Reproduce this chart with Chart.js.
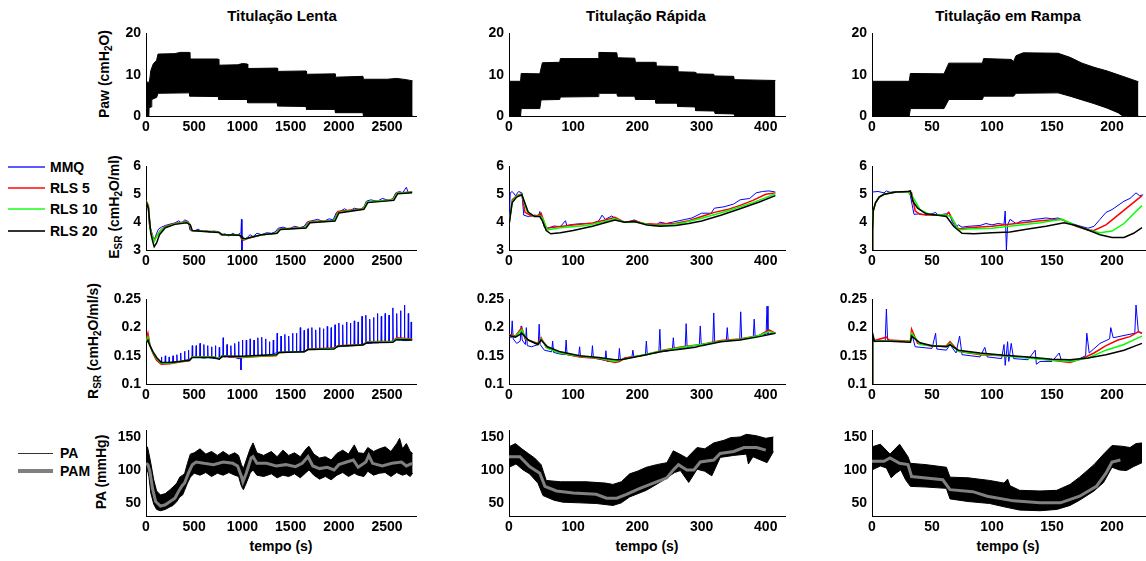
<!DOCTYPE html>
<html>
<head>
<meta charset="utf-8">
<script src="https://cdn.jsdelivr.net/npm/chart.js@4.4.1/dist/chart.umd.min.js"></script>
<style>
  body { margin: 0; width: 1146px; height: 561px; background: #fff; overflow: hidden; position: relative;
         font-family: 'Liberation Sans', Arial, sans-serif; font-weight: bold; color: #000; }
  canvas { position: absolute; }
  .lbl { position: absolute; white-space: nowrap; transform: translate(-50%, -50%); font-size: 14px; line-height: 1; }
  .ttl { font-size: 15px; }
  .ylbl { transform: translate(-50%, -50%) rotate(-90deg); }
  sub { font-size: 10px; vertical-align: -3px; line-height: 0; }
  .legtxt { position: absolute; white-space: nowrap; font-size: 14px; line-height: 1; transform: translateY(-50%); }
  .legline { position: absolute; width: 37px; }
</style>
</head>
<body>

<div class="lbl ttl" style="left:282px;top:15px">Titulação Lenta</div>
<div class="lbl ttl" style="left:646px;top:15px">Titulação Rápida</div>
<div class="lbl ttl" style="left:1008px;top:15px">Titulação em Rampa</div>

<div class="lbl ylbl" style="left:104px;top:74px">Paw (cmH<sub>2</sub>O)</div>
<div class="lbl ylbl" style="left:114px;top:207px">E<sub>SR</sub> (cmH<sub>2</sub>O/ml)</div>
<div class="lbl ylbl" style="left:93px;top:341px">R<sub>SR</sub> (cmH<sub>2</sub>O/ml/s)</div>
<div class="lbl ylbl" style="left:101px;top:472px">PA (mmHg)</div>

<div class="lbl" style="left:281px;top:546px">tempo (s)</div>
<div class="lbl" style="left:647px;top:546px">tempo (s)</div>
<div class="lbl" style="left:1008px;top:546px">tempo (s)</div>

<!-- legends -->
<div class="legline" style="left:8px;top:166px;height:2px;background:rgb(90,90,255)"></div>
<div class="legtxt" style="left:50px;top:167px">MMQ</div>
<div class="legline" style="left:8px;top:187px;height:2px;background:rgb(255,70,70)"></div>
<div class="legtxt" style="left:50px;top:188px">RLS 5</div>
<div class="legline" style="left:8px;top:208px;height:2px;background:rgb(80,255,80)"></div>
<div class="legtxt" style="left:50px;top:209px">RLS 10</div>
<div class="legline" style="left:8px;top:230px;height:2px;background:#333"></div>
<div class="legtxt" style="left:50px;top:231px">RLS 20</div>

<div class="legline" style="left:18px;top:453px;height:1px;width:35px;background:#333"></div>
<div class="legtxt" style="left:60px;top:453px">PA</div>
<div class="legline" style="left:18px;top:469px;height:4px;width:35px;background:#808080"></div>
<div class="legtxt" style="left:60px;top:471px">PAM</div>

<script>
// ---- ticks ----
const xTicksLenta = [0, 500, 1000, 1500, 2000, 2500];
const xTicksRapida = [0, 100, 200, 300, 400];
const xTicksRampa = [0, 50, 100, 150, 200];
const yTicksPaw = [0, 10, 20];
const yTicksE = [3, 4, 5, 6];
const yTicksR = [0.1, 0.15, 0.2, 0.25];
const yTicksPA = [50, 100, 150];

// ---- Paw envelopes [t, cmH2O] ----
const pawUpperLenta = [[0,8.2],[35,8.2],[50,11],[75,12.6],[110,13.5],[125,15],[300,15.1],[350,15.4],[450,15.4],[455,13.8],[750,13.8],[755,12.3],[950,12.4],[1000,12.7],[1050,12.6],[1055,11.5],[1360,11.6],[1365,10.8],[1660,10.9],[1665,10.1],[1960,10.2],[1965,9.4],[2250,9.6],[2255,8.9],[2500,8.9],[2600,9.1],[2700,8.8],[2765,8.5]];
const pawLowerLenta = [[0,0],[30,0],[32,2],[55,2.2],[60,4],[110,4.5],[125,5.5],[450,5.6],[455,4.8],[750,4.7],[755,4],[1050,4],[1055,3.2],[1360,3.2],[1365,2.4],[1660,2.3],[1665,1.6],[1960,1.6],[1965,0.8],[2250,0.8],[2255,0],[2765,0]];
const pawUpperRapida = [[0,8.4],[18,8.4],[19,10.3],[48,10.2],[52,12.9],[79,13],[80,13.9],[139,13.9],[140,15.4],[168,15.3],[169,14.1],[196,14],[197,13],[228,13],[229,12.1],[262,12],[263,10.7],[290,10.6],[291,10.2],[319,10.1],[320,9.7],[350,9.6],[351,8.8],[415,8.6]];
const pawLowerRapida = [[0,0],[18,0],[19,1.8],[48,1.8],[50,3.9],[79,4],[80,4.6],[139,4.7],[140,5.5],[168,5.5],[169,4.8],[196,4.8],[197,4],[228,4],[229,3.1],[262,3.1],[263,2.3],[290,2.2],[291,1.3],[320,1.2],[321,0.6],[350,0.5],[352,0],[415,0]];
const pawUpperRampa = [[0,8.4],[31,8.4],[32,10.3],[60,10.2],[64,12.8],[92,12.8],[93,13.9],[116,13.7],[118,13.2],[120,14.6],[126,15.3],[155,15.2],[165,14.2],[175,12.8],[185,11.8],[196,10.9],[210,9.5],[222,8.3]];
const pawLowerRampa = [[0,0],[31,0],[32,1.8],[60,1.8],[64,4],[92,4],[93,4.8],[118,4.8],[120,5.5],[155,5.6],[165,4.8],[175,3.9],[185,3],[196,1.9],[205,0.8],[209,0],[222,0]];

// ---- E_SR [t, cmH2O/ml] ----
const eMmqLenta = [[0,4.55],[8,4.7],[20,4.6],[35,3.9],[50,3.75],[70,3.45],[90,3.4],[110,3.6],[130,3.75],[160,3.82],[200,3.88],[250,3.93],[300,3.97],[340,4.05],[370,3.95],[400,4.08],[440,4.02],[455,3.72],[500,3.68],[540,3.75],[580,3.66],[620,3.7],[660,3.64],[700,3.68],[750,3.66],[770,3.55],[820,3.58],[860,3.5],[900,3.6],[940,3.52],[985,3.62],[990,4.1],[995,3.0],[1000,3.5],[1020,3.38],[1050,3.45],[1080,3.55],[1110,3.48],[1150,3.6],[1200,3.55],[1250,3.62],[1300,3.6],[1340,3.65],[1370,3.78],[1420,3.82],[1480,3.75],[1540,3.85],[1600,3.8],[1640,3.85],[1670,4.0],[1720,4.05],[1780,4.1],[1840,4.02],[1900,4.12],[1940,4.08],[1975,4.35],[2020,4.4],[2060,4.48],[2100,4.38],[2160,4.5],[2220,4.45],[2260,4.55],[2285,4.75],[2330,4.8],[2400,4.75],[2450,4.85],[2520,4.78],[2560,4.85],[2590,5.05],[2630,5.1],[2660,5.05],[2700,5.25],[2720,5.05],[2760,5.1]];
const eRls5Lenta = [[0,4.55],[10,4.7],[25,4.6],[40,3.8],[60,3.6],[80,3.35],[110,3.5],[150,3.7],[200,3.85],[300,3.95],[420,4.02],[450,3.95],[470,3.7],[600,3.68],[750,3.65],[780,3.55],[970,3.55],[990,3.4],[1010,3.35],[1060,3.42],[1200,3.55],[1350,3.6],[1380,3.75],[1650,3.82],[1690,4.02],[1950,4.05],[1990,4.38],[2250,4.48],[2290,4.72],[2560,4.8],[2600,5.05],[2760,5.08]];
const eRls10Lenta = [[0,4.55],[10,4.68],[25,4.55],[45,3.75],[65,3.5],[85,3.3],[120,3.55],[160,3.72],[200,3.83],[300,3.93],[420,4.0],[455,3.92],[475,3.7],[600,3.67],[750,3.64],[785,3.55],[970,3.54],[995,3.42],[1015,3.38],[1060,3.43],[1200,3.55],[1350,3.6],[1385,3.74],[1650,3.8],[1695,4.0],[1950,4.05],[1995,4.35],[2250,4.47],[2295,4.72],[2560,4.79],[2605,5.04],[2760,5.07]];
const eRls20Lenta = [[0,4.55],[10,4.65],[25,4.5],[50,3.6],[70,3.3],[85,3.12],[110,3.25],[140,3.55],[200,3.8],[300,3.92],[420,3.98],[460,3.9],[480,3.7],[600,3.66],[760,3.63],[790,3.55],[975,3.53],[1000,3.42],[1030,3.4],[1080,3.45],[1200,3.55],[1360,3.6],[1395,3.74],[1660,3.79],[1700,3.98],[1960,4.04],[2000,4.33],[2260,4.46],[2300,4.7],[2570,4.78],[2610,5.02],[2760,5.05]];

const eMmqRapida = [[0,4.0],[2,5.05],[5,5.1],[10,4.95],[15,5.1],[20,5.05],[21,4.8],[23,4.25],[30,4.2],[40,4.25],[46,4.22],[48,4.38],[50,4.2],[55,3.82],[60,3.78],[70,3.86],[80,3.84],[88,4.05],[90,3.88],[100,3.92],[115,3.95],[130,3.95],[140,4.05],[145,4.25],[150,4.1],[160,4.22],[165,4.15],[175,4.02],[185,4.0],[195,4.08],[205,3.98],[215,3.93],[230,3.9],[235,4.0],[245,3.95],[255,4.0],[265,4.05],[275,4.1],[285,4.15],[300,4.32],[315,4.32],[320,4.5],[335,4.55],[350,4.65],[360,4.8],[375,4.85],[385,5.05],[395,5.1],[405,5.12],[415,5.08]];
const eRls5Rapida = [[0,3.9],[5,4.8],[12,4.95],[20,5.02],[25,4.35],[35,4.22],[46,4.25],[50,4.32],[58,3.78],[70,3.82],[100,3.9],[130,3.97],[150,4.08],[165,4.17],[180,4.0],[195,4.05],[210,3.95],[230,3.92],[260,3.96],[280,4.05],[300,4.2],[320,4.35],[340,4.45],[360,4.6],[380,4.78],[400,5.0],[415,5.05]];
const eRls10Rapida = [[0,3.9],[5,4.75],[12,4.93],[20,5.0],[28,4.4],[40,4.2],[48,4.22],[52,4.15],[60,3.72],[80,3.8],[120,3.88],[150,4.02],[165,4.12],[180,4.0],[200,4.0],[225,3.88],[250,3.9],[270,3.97],[300,4.14],[340,4.4],[380,4.7],[400,4.88],[415,5.02]];
const eRls20Rapida = [[0,3.9],[5,4.7],[12,4.9],[20,4.98],[30,4.35],[40,4.2],[48,4.2],[52,4.05],[58,3.7],[65,3.58],[80,3.62],[100,3.7],[130,3.85],[165,4.08],[180,4.0],[195,4.02],[215,3.9],[235,3.85],[260,3.88],[280,3.95],[300,4.04],[330,4.25],[360,4.48],[390,4.72],[415,4.95]];

const eMmqRampa = [[0,5.08],[5,5.1],[10,5.05],[12,5.12],[15,5.07],[20,5.1],[25,5.08],[30,5.1],[32,4.95],[34,4.5],[35,4.28],[40,4.3],[45,4.25],[50,4.3],[53,4.35],[55,4.25],[62,4.3],[64,4.35],[67,4.0],[70,3.82],[72,3.9],[75,3.82],[80,3.85],[90,3.88],[95,3.95],[100,3.9],[105,3.95],[110,3.92],[111,4.4],[112,3.0],[113,3.9],[115,4.1],[120,3.95],[125,4.05],[130,4.05],[135,4.1],[140,4.12],[145,4.15],[150,4.12],[155,4.15],[160,4.05],[170,3.9],[180,3.78],[185,3.85],[190,4.1],[195,4.35],[200,4.45],[205,4.6],[210,4.75],[215,4.85],[220,5.05],[223,4.95],[226,4.98]];
const eRls5Rampa = [[0,3.0],[0.5,3.7],[1,4.4],[3,4.7],[6,4.9],[10,5.0],[20,5.08],[30,5.1],[33,5.05],[36,4.4],[40,4.28],[50,4.25],[62,4.25],[64,4.35],[67,4.1],[72,3.75],[80,3.8],[100,3.85],[120,3.95],[140,4.05],[158,4.1],[170,3.85],[180,3.72],[185,3.7],[195,3.9],[205,4.25],[215,4.6],[225,4.95]];
const eRls10Rampa = [[0,3.0],[0.5,3.7],[1,4.4],[3,4.7],[6,4.9],[10,5.0],[20,5.08],[30,5.1],[34,4.9],[40,4.45],[48,4.28],[62,4.25],[66,4.2],[72,3.72],[80,3.75],[100,3.78],[120,3.88],[140,3.98],[158,4.1],[170,3.88],[180,3.72],[190,3.62],[200,3.68],[210,3.95],[218,4.3],[225,4.6]];
const eRls20Rampa = [[0,3.0],[0.5,3.7],[1,4.4],[3,4.7],[6,4.9],[10,5.0],[20,5.08],[30,5.1],[32,5.12],[34,4.75],[38,4.5],[45,4.3],[55,4.25],[62,4.2],[68,3.85],[75,3.6],[85,3.58],[100,3.62],[115,3.65],[130,3.75],[145,3.85],[160,3.98],[170,3.88],[180,3.72],[190,3.55],[200,3.45],[210,3.45],[218,3.6],[225,3.8]];

// ---- R_SR [t, cmH2O/ml/s] ----
const rMmqLenta = [[0,0.178],[15,0.19],[30,0.172],[60,0.16],[90,0.148],[120,0.14],[150,0.136],
  [156,0.137],[160,0.148],[164,0.137],[196,0.137],[200,0.15],[204,0.137],[236,0.138],[240,0.148],[244,0.138],
  [276,0.139],[280,0.15],[284,0.139],[316,0.14],[320,0.152],[324,0.14],[356,0.14],[360,0.155],[364,0.14],
  [396,0.142],[400,0.158],[404,0.142],[436,0.143],[440,0.16],[444,0.143],[476,0.147],[480,0.168],[484,0.147],
  [516,0.147],[520,0.168],[524,0.147],[556,0.147],[560,0.172],[564,0.147],[596,0.146],[600,0.17],[604,0.146],
  [636,0.147],[640,0.168],[644,0.147],[676,0.146],[680,0.166],[684,0.146],[716,0.145],[720,0.168],[724,0.145],
  [756,0.145],[760,0.165],[764,0.145],[796,0.148],[800,0.182],[804,0.148],[836,0.148],[840,0.17],[844,0.148],
  [876,0.147],[880,0.168],[884,0.147],[916,0.147],[920,0.172],[924,0.147],[956,0.145],[960,0.175],[964,0.145],
  [982,0.146],[985,0.125],[988,0.146],[996,0.148],[1000,0.178],[1004,0.148],[1036,0.148],[1040,0.178],[1044,0.148],
  [1076,0.149],[1080,0.18],[1084,0.149],[1116,0.15],[1120,0.178],[1124,0.15],[1156,0.15],[1160,0.182],[1164,0.15],
  [1196,0.151],[1200,0.183],[1204,0.151],[1236,0.151],[1240,0.18],[1244,0.151],[1276,0.152],[1280,0.175],[1284,0.152],
  [1316,0.153],[1320,0.178],[1324,0.153],[1356,0.156],[1360,0.19],[1364,0.156],[1396,0.156],[1400,0.185],[1404,0.156],
  [1436,0.156],[1440,0.188],[1444,0.156],[1476,0.157],[1480,0.185],[1484,0.157],[1516,0.157],[1520,0.19],[1524,0.157],
  [1556,0.157],[1560,0.19],[1564,0.157],[1596,0.157],[1600,0.2],[1604,0.157],[1636,0.158],[1640,0.195],[1644,0.158],
  [1676,0.161],[1680,0.198],[1684,0.161],[1716,0.161],[1720,0.2],[1724,0.161],[1756,0.161],[1760,0.196],[1764,0.161],
  [1796,0.162],[1800,0.2],[1804,0.162],[1836,0.162],[1840,0.198],[1844,0.162],[1876,0.163],[1880,0.202],[1884,0.163],
  [1916,0.163],[1920,0.2],[1924,0.163],[1956,0.165],[1960,0.205],[1964,0.165],[1996,0.166],[2000,0.208],[2004,0.166],
  [2036,0.167],[2040,0.205],[2044,0.167],[2076,0.167],[2080,0.21],[2084,0.167],[2116,0.168],[2120,0.208],[2124,0.168],
  [2156,0.168],[2160,0.212],[2164,0.168],[2196,0.169],[2200,0.21],[2204,0.169],[2236,0.17],[2240,0.22],[2244,0.17],
  [2276,0.172],[2280,0.222],[2284,0.172],[2316,0.172],[2320,0.215],[2324,0.172],[2356,0.173],[2360,0.218],[2364,0.173],
  [2396,0.173],[2400,0.225],[2404,0.173],[2436,0.174],[2440,0.22],[2444,0.174],[2476,0.174],[2480,0.225],[2484,0.174],
  [2516,0.175],[2520,0.222],[2524,0.175],[2556,0.176],[2560,0.235],[2564,0.176],[2596,0.178],[2600,0.225],[2604,0.178],
  [2636,0.178],[2640,0.23],[2644,0.178],[2676,0.177],[2680,0.24],[2684,0.177],[2716,0.177],[2720,0.225],[2724,0.177],
  [2746,0.178],[2750,0.21],[2754,0.178],[2760,0.178]];
const rRls5Lenta = [[0,0.178],[20,0.19],[40,0.17],[70,0.155],[110,0.142],[160,0.135],[250,0.136],[350,0.139],[450,0.141],[480,0.148],[700,0.148],[760,0.145],[790,0.149],[1000,0.147],[1200,0.149],[1350,0.15],[1380,0.156],[1640,0.157],[1680,0.162],[1950,0.164],[1990,0.168],[2250,0.17],[2290,0.175],[2560,0.176],[2600,0.182],[2760,0.18]];
const rRls10Lenta = [[0,0.175],[20,0.183],[40,0.169],[70,0.157],[110,0.145],[160,0.137],[250,0.137],[350,0.14],[450,0.142],[480,0.148],[700,0.148],[760,0.145],[790,0.15],[1000,0.148],[1200,0.15],[1350,0.151],[1380,0.156],[1640,0.157],[1680,0.161],[1950,0.163],[1990,0.167],[2250,0.169],[2290,0.174],[2560,0.175],[2600,0.18],[2760,0.179]];
const rRls20Lenta = [[0,0.172],[20,0.178],[40,0.168],[70,0.158],[110,0.147],[160,0.138],[250,0.138],[350,0.14],[450,0.142],[480,0.147],[700,0.147],[760,0.144],[790,0.149],[1000,0.149],[1200,0.151],[1350,0.152],[1380,0.156],[1640,0.157],[1680,0.161],[1950,0.162],[1990,0.167],[2250,0.169],[2290,0.173],[2560,0.174],[2600,0.179],[2760,0.178]];

const rMmqRapida = [[0,0.185],[3.5,0.182],[5,0.212],[6.5,0.18],[12,0.172],[17.5,0.176],[19,0.203],[20.5,0.178],[25.5,0.17],[27,0.2],[28.5,0.168],[35,0.166],[45.5,0.17],[47,0.206],[48.5,0.17],[55,0.16],[66.5,0.157],[68,0.176],[69.5,0.156],[80,0.153],[87.5,0.152],[89,0.178],[90.5,0.152],[100,0.15],[108.5,0.149],[110,0.166],[111.5,0.148],[120,0.148],[128.5,0.147],[130,0.168],[131.5,0.146],[140,0.144],[149.5,0.142],[151,0.159],[152.5,0.14],[165,0.14],[170.5,0.141],[172,0.163],[173.5,0.143],[185,0.147],[191.5,0.148],[193,0.16],[194.5,0.148],[205,0.15],[212.5,0.152],[214,0.176],[215.5,0.152],[225,0.155],[233.5,0.156],[235,0.197],[236.5,0.157],[245,0.158],[254.5,0.161],[256,0.182],[257.5,0.162],[265,0.163],[274.5,0.165],[276,0.207],[277.5,0.165],[288,0.168],[296.5,0.169],[298,0.203],[299.5,0.17],[310,0.172],[317.5,0.173],[319,0.226],[320.5,0.174],[330,0.175],[338.5,0.176],[340,0.2],[341.5,0.177],[352,0.178],[359.5,0.179],[361,0.228],[362.5,0.18],[372,0.182],[380.5,0.183],[382,0.215],[383.5,0.184],[393,0.188],[400.5,0.188],[402,0.238],[403.5,0.188],[410,0.19],[415,0.19]];
const rRls5Rapida = [[0,0.188],[10,0.185],[20,0.2],[25,0.18],[45,0.172],[50,0.182],[58,0.165],[80,0.155],[110,0.148],[140,0.145],[165,0.138],[172,0.14],[180,0.146],[210,0.151],[240,0.16],[270,0.166],[300,0.17],[330,0.177],[360,0.18],[390,0.186],[405,0.196],[415,0.19]];
const rRls10Rapida = [[0,0.186],[10,0.184],[20,0.196],[27,0.18],[45,0.17],[50,0.18],[60,0.163],[80,0.155],[110,0.149],[140,0.146],[165,0.14],[175,0.143],[210,0.152],[240,0.159],[270,0.165],[300,0.17],[330,0.176],[360,0.179],[390,0.186],[405,0.193],[415,0.19]];
const rRls20Rapida = [[0,0.186],[10,0.183],[20,0.19],[30,0.178],[45,0.17],[50,0.178],[60,0.166],[80,0.157],[110,0.15],[140,0.147],[165,0.143],[175,0.143],[210,0.151],[240,0.158],[270,0.162],[290,0.165],[300,0.168],[330,0.175],[360,0.178],[390,0.184],[415,0.19]];

const rMmqRampa = [[0,0.1],[0.5,0.18],[2,0.175],[11,0.176],[12,0.233],[13,0.178],[32,0.174],[33,0.19],[36,0.166],[50,0.163],[53,0.19],[54,0.162],[62,0.16],[65,0.17],[70,0.155],[73,0.185],[75,0.152],[90,0.148],[94,0.165],[96,0.148],[108,0.145],[110,0.17],[111,0.133],[113,0.175],[114,0.14],[116,0.172],[118,0.145],[130,0.143],[136,0.16],[137,0.135],[140,0.14],[150,0.14],[156,0.155],[158,0.14],[170,0.142],[178,0.15],[179,0.19],[181,0.155],[190,0.172],[198,0.18],[199,0.2],[201,0.182],[210,0.186],[219,0.19],[220,0.24],[222,0.192],[225,0.19]];
const rRls5Rampa = [[0,0.1],[0.5,0.185],[2,0.177],[12,0.183],[14,0.178],[32,0.176],[33,0.197],[38,0.172],[50,0.167],[62,0.168],[65,0.175],[72,0.158],[90,0.152],[110,0.15],[130,0.147],[150,0.142],[165,0.138],[175,0.145],[185,0.155],[195,0.168],[205,0.178],[215,0.184],[222,0.193],[225,0.19]];
const rRls10Rampa = [[0,0.1],[0.5,0.185],[2,0.177],[32,0.175],[33,0.19],[40,0.17],[62,0.166],[65,0.172],[72,0.158],[90,0.153],[110,0.15],[130,0.146],[150,0.142],[165,0.14],[180,0.146],[195,0.16],[210,0.17],[220,0.18],[225,0.185]];
const rRls20Rampa = [[0,0.1],[0.5,0.19],[2,0.176],[15,0.176],[32,0.174],[33,0.185],[40,0.173],[50,0.168],[62,0.166],[65,0.17],[72,0.16],[90,0.155],[110,0.151],[130,0.148],[150,0.144],[165,0.143],[180,0.146],[195,0.152],[210,0.16],[220,0.168],[225,0.172]];

// ---- PA envelopes and PAM [t, mmHg] ----
const paUpperLenta = [[0,128],[15,135],[30,125],[50,110],[80,85],[110,68],[150,62],[200,64],[250,70],[280,74],[320,80],[350,89],[380,92],[400,94],[430,110],[460,124],[500,126],[560,132],[620,124],[680,128],[740,122],[800,128],[860,122],[920,126],[960,122],[990,108],[1010,102],[1040,115],[1080,132],[1110,141],[1150,126],[1220,122],[1300,128],[1360,120],[1420,130],[1480,122],[1540,126],[1600,120],[1660,132],[1690,136],[1740,124],[1800,118],[1860,120],[1920,115],[1980,125],[2040,130],[2100,124],[2160,138],[2200,126],[2260,125],[2300,134],[2360,128],[2420,132],[2480,135],[2540,128],[2600,140],[2630,148],[2660,132],[2700,140],[2740,128],[2765,125]];
const paLowerLenta = [[0,95],[15,100],[30,90],[50,65],[80,48],[110,40],[150,38],[200,40],[250,44],[280,46],[320,52],[350,59],[380,62],[400,69],[430,80],[460,89],[500,95],[560,92],[620,96],[680,90],[740,95],[800,92],[860,96],[920,92],[960,90],[990,75],[1010,70],[1040,80],[1080,95],[1110,100],[1150,92],[1220,90],[1300,94],[1360,88],[1420,92],[1480,90],[1540,94],[1600,88],[1660,96],[1690,100],[1740,92],[1800,86],[1860,90],[1920,85],[1980,92],[2040,96],[2100,90],[2160,95],[2200,92],[2260,90],[2300,98],[2360,92],[2420,95],[2480,96],[2540,90],[2600,96],[2660,92],[2700,94],[2740,90],[2765,95]];
const pamLenta = [[0,110],[20,108],[40,98],[70,70],[100,52],[150,45],[200,47],[250,52],[300,57],[340,68],[370,75],[400,80],[440,95],[480,108],[520,112],[600,110],[700,108],[800,112],[900,110],[950,106],[990,90],[1005,82],[1040,95],[1090,118],[1110,120],[1150,110],[1250,110],[1350,106],[1450,108],[1550,105],[1620,110],[1680,120],[1730,106],[1800,102],[1880,104],[1950,100],[2000,108],[2080,112],[2150,115],[2200,104],[2280,112],[2310,122],[2350,110],[2450,106],[2550,110],[2650,112],[2700,106],[2760,110]];

const paUpperRapida = [[0,135],[10,140],[20,132],[30,125],[40,118],[50,108],[58,84],[80,82],[120,82],[150,80],[162,78],[175,82],[188,94],[200,98],[214,104],[230,108],[246,111],[256,129],[270,122],[277,118],[293,134],[305,132],[319,141],[335,145],[345,149],[360,150],[370,154],[385,152],[400,148],[412,150]];
const paLowerRapida = [[0,104],[11,109],[22,100],[32,94],[45,80],[53,61],[70,54],[84,51],[110,50],[136,49],[162,46],[175,50],[188,59],[214,69],[240,84],[258,96],[267,99],[280,81],[293,101],[305,98],[316,91],[329,119],[350,122],[370,124],[373,109],[380,120],[402,111],[412,128]];
const pamRapida = [[0,120],[17,120],[32,105],[48,95],[56,75],[74,68],[100,65],[136,63],[152,57],[168,57],[183,63],[204,72],[225,80],[246,88],[256,100],[264,108],[277,100],[288,100],[298,112],[319,115],[329,125],[350,128],[366,134],[386,134],[400,130]];

const paUpperRampa = [[0,135],[7,139],[15,124],[23,139],[30,120],[32,110],[45,108],[62,104],[65,89],[80,88],[98,84],[110,80],[113,86],[115,76],[123,69],[140,68],[154,69],[165,78],[173,89],[185,108],[193,124],[200,137],[208,136],[215,134],[220,140],[225,141]];
const paLowerRampa = [[0,100],[7,106],[12,103],[16,88],[20,95],[24,100],[28,85],[32,75],[45,74],[62,72],[65,56],[80,52],[98,49],[110,44],[123,39],[140,38],[154,40],[165,46],[173,54],[185,68],[193,81],[200,104],[206,100],[212,99],[218,105],[225,111]];
const pamRampa = [[0,113],[10,113],[15,118],[23,110],[30,108],[33,90],[43,88],[59,85],[65,70],[84,67],[96,60],[118,53],[140,50],[157,50],[173,60],[187,75],[195,95],[200,112],[207,115]];

// ---- layout ----
Chart.defaults.font.family = "'Liberation Sans', Arial, sans-serif";
Chart.defaults.font.size = 14;
Chart.defaults.font.weight = 'bold';
Chart.defaults.color = '#000';

const BLUE = 'rgb(0,0,255)', RED = 'rgb(255,0,0)', GREEN = 'rgb(0,255,0)', BLACK = '#000', GRAY = '#808080';

const cols = [
  {left: 146, right: 416, max: 2800, ticks: xTicksLenta, padRight: 10},
  {left: 509, right: 785, max: 430, ticks: xTicksRapida, padRight: 10},
  {left: 872, right: 1145, max: 227.5, ticks: xTicksRampa, padRight: 1}
];
const rows = [
  {top: 32, bottom: 116, min: 0, max: 20, ticks: yTicksPaw},
  {top: 165, bottom: 250, min: 3, max: 6, ticks: yTicksE},
  {top: 298, bottom: 384, min: 0.1, max: 0.25, ticks: yTicksR},
  {top: 429, bottom: 516, min: 30, max: 160, ticks: yTicksPA}
];

function line(data, color, width, order) {
  return {data: data, borderColor: color, borderWidth: width, pointRadius: 0, fill: false, order: order};
}
function band(upper, lower) {
  return [
    {data: upper, borderColor: BLACK, borderWidth: 1, backgroundColor: BLACK, fill: '+1', pointRadius: 0, order: 3},
    {data: lower, borderColor: BLACK, borderWidth: 1, fill: false, pointRadius: 0, order: 2}
  ];
}

function makePlot(r, c, datasets) {
  const row = rows[r], col = cols[c];
  const AXW = 50, PADT = 12, AXH = 24;
  const w = col.right - col.left + AXW + col.padRight;
  const h = row.bottom - row.top + PADT + AXH;
  const canvas = document.createElement('canvas');
  canvas.width = w; canvas.height = h;
  canvas.style.left = (col.left - AXW) + 'px';
  canvas.style.top = (row.top - PADT) + 'px';
  canvas.style.width = w + 'px';
  canvas.style.height = h + 'px';
  document.body.appendChild(canvas);

  new Chart(canvas, {
    type: 'line',
    data: {datasets: datasets},
    options: {
      responsive: false,
      animation: false,
      events: [],
      layout: {padding: {top: PADT, right: col.padRight, left: 0, bottom: 0}},
      plugins: {legend: {display: false}, tooltip: {enabled: false}},
      elements: {point: {radius: 0}, line: {tension: 0}},
      scales: {
        x: {
          type: 'linear', min: 0, max: col.max,
          grid: {display: false, drawTicks: false},
          border: {display: true, color: BLACK, width: 1},
          ticks: {padding: 3, maxRotation: 0, autoSkip: false, callback: v => String(v)},
          afterBuildTicks: s => { s.ticks = col.ticks.map(v => ({value: v})); },
          afterFit: s => { s.height = AXH; }
        },
        y: {
          type: 'linear', min: row.min, max: row.max,
          grid: {display: false, drawTicks: false},
          border: {display: true, color: BLACK, width: 1},
          ticks: {padding: 5, autoSkip: false, callback: v => String(v)},
          afterBuildTicks: s => { s.ticks = row.ticks.map(v => ({value: v})); },
          afterFit: s => { s.width = AXW; }
        }
      }
    }
  });
}

// row 1: Paw
makePlot(0, 0, band(pawUpperLenta, pawLowerLenta));
makePlot(0, 1, band(pawUpperRapida, pawLowerRapida));
makePlot(0, 2, band(pawUpperRampa, pawLowerRampa));

// row 2: E_SR
makePlot(1, 0, [line(eMmqLenta, BLUE, 1, 4), line(eRls5Lenta, RED, 1.5, 3), line(eRls10Lenta, GREEN, 1.5, 2), line(eRls20Lenta, BLACK, 1.5, 1)]);
makePlot(1, 1, [line(eMmqRapida, BLUE, 1, 4), line(eRls5Rapida, RED, 1.5, 3), line(eRls10Rapida, GREEN, 1.5, 2), line(eRls20Rapida, BLACK, 1.5, 1)]);
makePlot(1, 2, [line(eMmqRampa, BLUE, 1, 4), line(eRls5Rampa, RED, 1.5, 3), line(eRls10Rampa, GREEN, 1.5, 2), line(eRls20Rampa, BLACK, 1.5, 1)]);

// row 3: R_SR
makePlot(2, 0, [line(rMmqLenta, BLUE, 1, 4), line(rRls5Lenta, RED, 1.5, 3), line(rRls10Lenta, GREEN, 1.5, 2), line(rRls20Lenta, BLACK, 1.5, 1)]);
makePlot(2, 1, [line(rMmqRapida, BLUE, 1, 4), line(rRls5Rapida, RED, 1.5, 3), line(rRls10Rapida, GREEN, 1.5, 2), line(rRls20Rapida, BLACK, 1.5, 1)]);
makePlot(2, 2, [line(rMmqRampa, BLUE, 1, 4), line(rRls5Rampa, RED, 1.5, 3), line(rRls10Rampa, GREEN, 1.5, 2), line(rRls20Rampa, BLACK, 1.5, 1)]);

// row 4: PA + PAM
makePlot(3, 0, band(paUpperLenta, paLowerLenta).concat([line(pamLenta, GRAY, 3, 1)]));
makePlot(3, 1, band(paUpperRapida, paLowerRapida).concat([line(pamRapida, GRAY, 3, 1)]));
makePlot(3, 2, band(paUpperRampa, paLowerRampa).concat([line(pamRampa, GRAY, 3, 1)]));
</script>
</body>
</html>
